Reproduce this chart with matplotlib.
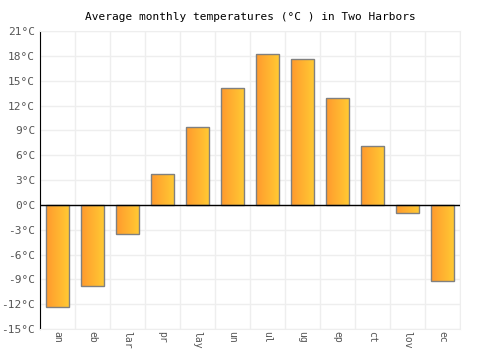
import matplotlib.pyplot as plt
import numpy as np
from matplotlib.colors import LinearSegmentedColormap

# month labels as shown (first letter clipped in the original)
months = ['an', 'eb', 'lar', 'pr', 'lay', 'un', 'ul', 'ug', 'ep', 'ct', 'lov', 'ec']
temps = [-12.4, -9.8, -3.5, 3.7, 9.4, 14.1, 18.2, 17.6, 12.9, 7.1, -1.0, -9.2]
yticks = np.arange(-15, 22, 3)

fig = plt.figure(figsize=(5, 3.5), dpi=100)
ax = fig.add_axes([0.08, 0.06, 0.84, 0.851])

x = np.arange(len(months))
bars = ax.bar(x, temps, width=0.66, color='none', edgecolor='#808080',
              linewidth=1, zorder=3)

# horizontal orange -> yellow gradient inside each bar
grad = np.linspace(0, 1, 64).reshape(1, -1)
cmap = LinearSegmentedColormap.from_list('og', ['#ff9a2e', '#ffcb33'])
for b in bars:
    x0, y0 = b.get_x(), b.get_y()
    w, h = b.get_width(), b.get_height()
    im = ax.imshow(grad, cmap=cmap, aspect='auto', zorder=2,
                   extent=[x0, x0 + w, y0, y0 + h], interpolation='bicubic')
    im.set_clip_path(b)

ax.set_xlim(-0.5, len(months) - 0.5)
ax.set_ylim(-15, 21)
ax.set_yticks(yticks)
ax.set_yticklabels([f'{t}°C' for t in yticks], family='DejaVu Sans Mono',
                   fontsize=8, color='#555555')
ax.set_xticks(x)
ax.set_xticklabels(months, rotation=-90, family='DejaVu Sans Mono',
                   fontsize=7, color='#555555')
ax.set_xticks(np.arange(-0.5, len(months), 1), minor=True)
ax.grid(True, which='minor', axis='x', color='#eeeeee', linewidth=1, zorder=0)
ax.grid(True, which='major', axis='y', color='#eeeeee', linewidth=1, zorder=0)
ax.tick_params(which='both', length=0)
ax.tick_params(axis='x', pad=1.5)
ax.axhline(0, color='black', linewidth=1, zorder=4)

for s in ['top', 'right', 'bottom']:
    ax.spines[s].set_color('#eeeeee')
ax.spines['left'].set_color('black')

ax.set_title('Average monthly temperatures (°C ) in Two Harbors',
             family='DejaVu Sans Mono', fontsize=8, pad=8)

fig.savefig('out.png')
